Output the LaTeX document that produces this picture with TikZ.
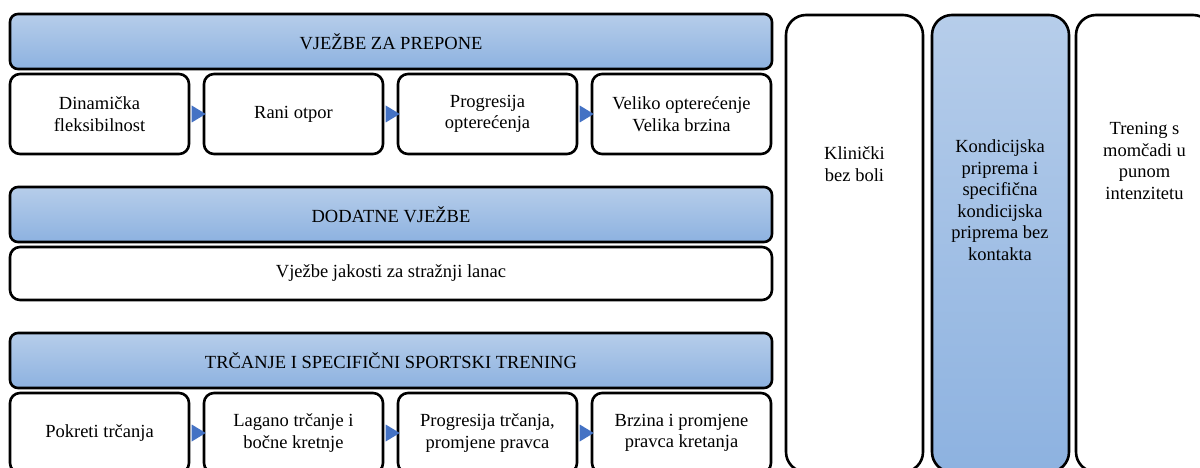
\documentclass[tikz,border=0pt]{standalone}
\usepackage{fontspec}
\setmainfont{Liberation Serif}
\usetikzlibrary{positioning, shapes.geometric}
\definecolor{bartop}{RGB}{182,205,234}
\definecolor{barbot}{RGB}{141,178,224}
\definecolor{arrblue}{RGB}{68,114,196}

\begin{document}
\begin{tikzpicture}[x=1pt, y=-1pt, line width=2.6pt, node distance=15pt,
  every node/.style={font=\fontsize{18.5}{21.5}\selectfont, align=center, outer sep=0pt},
  bar/.style={draw, rounded corners=8pt, top color=bartop, bottom color=barbot,
    minimum width=762pt, minimum height=55pt, anchor=north west},
  box/.style={draw, rounded corners=10pt, fill=white, minimum width=179pt, minimum height=80pt},
  col/.style={draw, rounded corners=20pt, minimum width=137pt, minimum height=457pt, anchor=north west},
  tri/.style={isosceles triangle, isosceles triangle stretches, fill=arrblue, draw=none,
    inner sep=0pt, minimum width=17pt, minimum height=14pt}]

  \useasboundingbox (0,0) rectangle (1200,468);
  \clip (0,0) rectangle (1200,468);

  % Phases
  \node[col] (klinicki) at (786,15) {};
  \node[col, top color=bartop, bottom color=barbot] (kondicija) at (932,15) {};
  \node[col] (momcad) at (1076,15) {};
  \node (klinickiT) at (854.5,164) {Klinički\\bez boli};
  \node (kondicijaT) at (1000,200) {Kondicijska\\priprema i\\specifična\\kondicijska\\priprema bez\\kontakta};
  \node (momcadT) at (1144.5,161) {Trening s\\momčadi u\\punom\\intenzitetu};

  % Prepone
  \node[bar] (prepone) at (10,14) {VJEŽBE ZA PREPONE};
  \node[box, below right=5pt and 0pt of prepone.south west] (dinamicka) {Dinamička\\fleksibilnost};
  \node[box, right=of dinamicka] (otpor) {Rani otpor};
  \node[box, right=of otpor] (progresija) {Progresija\\opterećenja};
  \node[box, right=of progresija] (veliko) {Veliko opterećenje\\Velika brzina};

  % Dodatne
  \node[bar] (dodatne) at (10,187) {DODATNE VJEŽBE};
  \node[box, minimum width=762pt, minimum height=53pt,
    below right=5pt and 0pt of dodatne.south west] (jakost) {Vježbe jakosti za stražnji lanac};

  % Trcanje
  \node[bar] (trcanje) at (10,333) {TRČANJE I SPECIFIČNI SPORTSKI TRENING};
  \node[box, below right=5pt and 0pt of trcanje.south west] (pokreti) {Pokreti trčanja};
  \node[box, right=of pokreti] (lagano) {Lagano trčanje i\\bočne kretnje};
  \node[box, right=of lagano] (ptrcanja) {Progresija trčanja,\\promjene pravca};
  \node[box, right=of ptrcanja] (brzina) {Brzina i promjene\\pravca kretanja};

  % Arrows
  \path (dinamicka) -- node[tri] {} (otpor);
  \path (otpor) -- node[tri] {} (progresija);
  \path (progresija) -- node[tri] {} (veliko);
  \path (pokreti) -- node[tri] {} (lagano);
  \path (lagano) -- node[tri] {} (ptrcanja);
  \path (ptrcanja) -- node[tri] {} (brzina);

\end{tikzpicture}
\end{document}
